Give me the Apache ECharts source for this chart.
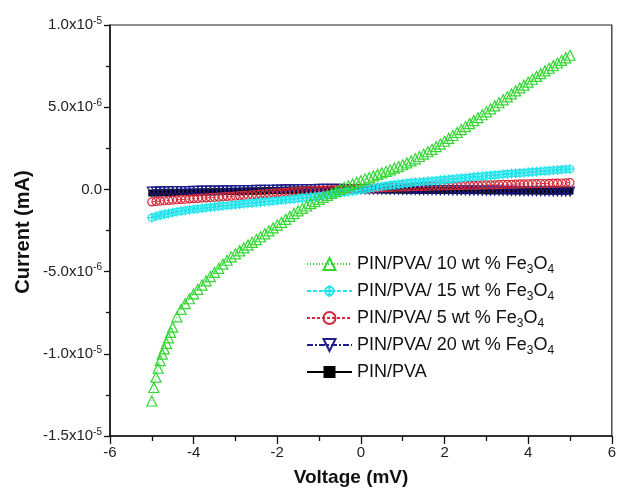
<!DOCTYPE html>
<html>
<head>
<meta charset="utf-8">
<script src="https://cdn.jsdelivr.net/npm/echarts@6/dist/echarts.min.js"></script>
<style>
html,body{margin:0;padding:0;background:#fff;}
#chart{width:619px;height:490px;}
</style>
</head>
<body>
<div id="chart"></div>
<script>
// Current values in units of 1e-6 mA
const UNIT = 1e-6;
const xTicks = [-6, -4, -2, 0, 2, 4, 6];
const yTicks = [-15, -10, -5, 0, 5, 10];

const voltage = [
-5.0,-4.9,-4.8,-4.7,-4.6,-4.5,-4.4,-4.3,-4.2,-4.1,
-4.0,-3.9,-3.8,-3.7,-3.6,-3.5,-3.4,-3.3,-3.2,-3.1,
-3.0,-2.9,-2.8,-2.7,-2.6,-2.5,-2.4,-2.3,-2.2,-2.1,
-2.0,-1.9,-1.8,-1.7,-1.6,-1.5,-1.4,-1.3,-1.2,-1.1,
-1.0,-0.9,-0.8,-0.7,-0.6,-0.5,-0.4,-0.3,-0.2,-0.1,
0.0,0.1,0.2,0.3,0.4,0.5,0.6,0.7,0.8,0.9,
1.0,1.1,1.2,1.3,1.4,1.5,1.6,1.7,1.8,1.9,
2.0,2.1,2.2,2.3,2.4,2.5,2.6,2.7,2.8,2.9,
3.0,3.1,3.2,3.3,3.4,3.5,3.6,3.7,3.8,3.9,
4.0,4.1,4.2,4.3,4.4,4.5,4.6,4.7,4.8,4.9,
5.0];

const voltage10 = [
-5.0,-4.95,-4.9,-4.85,-4.8,-4.75,-4.7,-4.65,-4.6,-4.55,-4.5,
-4.4,-4.3,-4.2,-4.1,
-4.0,-3.9,-3.8,-3.7,-3.6,-3.5,-3.4,-3.3,-3.2,-3.1,
-3.0,-2.9,-2.8,-2.7,-2.6,-2.5,-2.4,-2.3,-2.2,-2.1,
-2.0,-1.9,-1.8,-1.7,-1.6,-1.5,-1.4,-1.3,-1.2,-1.1,
-1.0,-0.9,-0.8,-0.7,-0.6,-0.5,-0.4,-0.3,-0.2,-0.1,
0.0,0.1,0.2,0.3,0.4,0.5,0.6,0.7,0.8,0.9,
1.0,1.1,1.2,1.3,1.4,1.5,1.6,1.7,1.8,1.9,
2.0,2.1,2.2,2.3,2.4,2.5,2.6,2.7,2.8,2.9,
3.0,3.1,3.2,3.3,3.4,3.5,3.6,3.7,3.8,3.9,
4.0,4.1,4.2,4.3,4.4,4.5,4.6,4.7,4.8,4.9,
5.0];

const current10 = [
-12.87,-12.05,-11.42,-10.88,-10.42,-10.02,-9.70,-9.36,-9.03,-8.70,-8.38,
-7.75,-7.30,-6.95,-6.65,
-6.36,-6.08,-5.82,-5.56,-5.30,-5.05,-4.80,-4.55,-4.31,-4.10,
-3.92,-3.74,-3.56,-3.39,-3.22,-3.05,-2.88,-2.70,-2.52,-2.34,
-2.17,-2.00,-1.82,-1.64,-1.47,-1.31,-1.16,-1.01,-0.87,-0.74,
-0.61,-0.48,-0.36,-0.24,-0.12,0.00,0.11,0.22,0.33,0.43,
0.53,0.63,0.72,0.82,0.91,1.00,1.10,1.19,1.29,1.39,
1.50,1.61,1.73,1.86,2.00,2.14,2.29,2.44,2.60,2.76,
2.93,3.10,3.28,3.46,3.64,3.82,4.00,4.18,4.36,4.54,
4.72,4.90,5.08,5.27,5.45,5.63,5.81,5.99,6.17,6.34,
6.52,6.70,6.87,7.04,7.21,7.37,7.53,7.69,7.85,8.00,
8.16];

const current15 = [
-1.72,-1.64,-1.57,-1.51,-1.46,-1.41,-1.36,-1.32,-1.28,-1.24,
-1.21,-1.18,-1.15,-1.12,-1.09,-1.06,-1.03,-1.00,-0.98,-0.95,
-0.93,-0.90,-0.88,-0.85,-0.83,-0.80,-0.78,-0.75,-0.73,-0.70,
-0.68,-0.65,-0.63,-0.60,-0.58,-0.55,-0.52,-0.50,-0.47,-0.44,
-0.41,-0.38,-0.34,-0.30,-0.26,-0.22,-0.18,-0.14,-0.10,-0.06,
-0.02,0.02,0.06,0.10,0.14,0.18,0.22,0.26,0.29,0.32,
0.35,0.38,0.41,0.43,0.45,0.47,0.49,0.51,0.53,0.56,
0.58,0.61,0.63,0.66,0.68,0.71,0.73,0.76,0.78,0.80,
0.83,0.85,0.87,0.89,0.92,0.94,0.96,0.98,1.00,1.02,
1.04,1.06,1.08,1.10,1.12,1.14,1.16,1.18,1.20,1.22,
1.24];

const current5 = [
-0.76,-0.73,-0.71,-0.69,-0.67,-0.65,-0.63,-0.61,-0.60,-0.58,
-0.56,-0.55,-0.53,-0.52,-0.50,-0.48,-0.47,-0.45,-0.43,-0.42,
-0.40,-0.38,-0.36,-0.34,-0.33,-0.31,-0.29,-0.27,-0.25,-0.23,
-0.21,-0.20,-0.18,-0.16,-0.14,-0.13,-0.11,-0.10,-0.08,-0.07,
-0.05,-0.04,-0.03,-0.02,-0.01,0.00,0.01,0.02,0.03,0.04,
0.05,0.06,0.07,0.08,0.09,0.10,0.11,0.12,0.13,0.14,
0.15,0.15,0.16,0.17,0.18,0.18,0.19,0.20,0.20,0.21,
0.22,0.22,0.23,0.23,0.24,0.24,0.25,0.25,0.26,0.27,
0.27,0.28,0.28,0.29,0.30,0.30,0.31,0.32,0.33,0.33,
0.34,0.35,0.35,0.36,0.36,0.37,0.38,0.38,0.39,0.40,
0.41];

const current20 = [
-0.13,-0.13,-0.12,-0.12,-0.12,-0.11,-0.11,-0.10,-0.10,-0.10,
-0.09,-0.09,-0.08,-0.08,-0.08,-0.07,-0.07,-0.06,-0.06,-0.06,
-0.05,-0.05,-0.04,-0.04,-0.04,-0.03,-0.03,-0.02,-0.02,-0.02,
-0.01,-0.01,0.00,0.00,0.00,0.01,0.01,0.02,0.02,0.02,
0.03,0.03,0.03,0.03,0.03,0.03,0.02,0.02,0.02,0.01,
0.01,0.00,0.00,0.00,-0.01,-0.01,-0.01,-0.02,-0.02,-0.02,
-0.03,-0.03,-0.03,-0.03,-0.04,-0.04,-0.04,-0.04,-0.05,-0.05,
-0.05,-0.05,-0.06,-0.06,-0.06,-0.06,-0.07,-0.07,-0.07,-0.07,
-0.08,-0.08,-0.08,-0.08,-0.09,-0.09,-0.09,-0.09,-0.10,-0.10,
-0.10,-0.10,-0.11,-0.11,-0.11,-0.11,-0.12,-0.12,-0.12,-0.12,
-0.13];

const currentPure = [
-0.22,-0.21,-0.21,-0.20,-0.20,-0.19,-0.19,-0.18,-0.18,-0.17,
-0.17,-0.16,-0.16,-0.15,-0.15,-0.14,-0.14,-0.13,-0.13,-0.12,
-0.12,-0.11,-0.11,-0.10,-0.10,-0.09,-0.09,-0.08,-0.08,-0.07,
-0.07,-0.06,-0.06,-0.05,-0.05,-0.04,-0.04,-0.03,-0.03,-0.02,
-0.02,-0.01,-0.01,0.00,0.00,0.00,0.00,-0.01,-0.01,-0.01,
-0.01,-0.02,-0.02,-0.02,-0.02,-0.03,-0.03,-0.03,-0.03,-0.03,
-0.04,-0.04,-0.04,-0.04,-0.05,-0.05,-0.05,-0.05,-0.05,-0.06,
-0.06,-0.06,-0.06,-0.06,-0.07,-0.07,-0.07,-0.07,-0.07,-0.07,
-0.08,-0.08,-0.08,-0.08,-0.08,-0.08,-0.09,-0.09,-0.09,-0.09,
-0.09,-0.09,-0.09,-0.09,-0.10,-0.10,-0.10,-0.10,-0.10,-0.10,
-0.10];

const seriesNames = [
  'PIN/PVA/ 10 wt % Fe3O4',
  'PIN/PVA/ 15 wt % Fe3O4',
  'PIN/PVA/ 5 wt % Fe3O4',
  'PIN/PVA/ 20 wt % Fe3O4',
  'PIN/PVA'
];

const colors = {
  green: '#33d633',
  cyan: '#22e3ec',
  red: '#d42a3a',
  navy: '#1e1e8c',
  black: '#000000'
};

function zip(xs, ys) { return xs.map((x, i) => [x, ys[i]]); }

const crossCircle = 'path://M10 0L10 20M0 10L20 10M17 10A7 7 0 1 1 3 10A7 7 0 1 1 17 10Z';

const FONT = 'Liberation Sans, Arial, Helvetica, sans-serif';

const chart = echarts.init(document.getElementById('chart'), null, {renderer: 'canvas'});

function yLabel(v) {
  if (Math.abs(v) < 1e-9) return '0.0';
  const real = v * UNIT;
  const exp = Math.floor(Math.log10(Math.abs(real)) + 1e-9);
  const mant = real / Math.pow(10, exp);
  return mant.toFixed(1) + 'x10{sup|' + exp + '}';
}

function mk(name, data, color, symbol, size, dash, extra) {
  return Object.assign({
    name: name,
    type: 'line',
    data: data,
    symbol: symbol,
    symbolSize: size,
    showSymbol: true,
    showAllSymbol: true,
    smooth: false,
    lineStyle: {color: color, width: 1, type: dash},
    itemStyle: {color: 'rgba(0,0,0,0)', borderColor: color, borderWidth: 1.2},
    emphasis: {disabled: true},
    animation: false
  }, extra || {});
}

const option = {
  backgroundColor: '#fff',
  animation: false,
  grid: {left: 110, right: 4, top: 25, bottom: 54, show: true, borderColor: '#222', borderWidth: 1.2, backgroundColor: 'transparent'},
  xAxis: {
    type: 'value', min: xTicks[0], max: xTicks[xTicks.length - 1], interval: 2,
    axisLine: {show: true, onZero: false, lineStyle: {color: '#111', width: 1.5}},
    axisTick: {show: true, inside: false, length: 8, lineStyle: {color: '#111', width: 1.3}},
    minorTick: {show: true, splitNumber: 2, length: 5, lineStyle: {color: '#111', width: 1.3}},
    splitLine: {show: false},
    axisLabel: {fontSize: 15, color: '#222', margin: 9, fontFamily: FONT}
  },
  yAxis: {
    type: 'value', min: yTicks[0], max: yTicks[yTicks.length - 1], interval: 5,
    axisLine: {show: true, onZero: false, lineStyle: {color: '#111', width: 1.5}},
    axisTick: {show: true, inside: false, length: 6, lineStyle: {color: '#111', width: 1.3}},
    minorTick: {show: true, splitNumber: 2, length: 4, lineStyle: {color: '#111', width: 1.3}},
    splitLine: {show: false},
    axisLabel: {
      fontSize: 15, color: '#222', margin: 8, fontFamily: FONT, lineHeight: 18,
      formatter: yLabel,
      rich: {sup: {fontSize: 10, lineHeight: 10, verticalAlign: 'top', color: '#222', fontFamily: FONT}}
    }
  },
  legend: {
    orient: 'vertical', left: 301, top: 247,
    itemWidth: 45, itemHeight: 15, itemGap: 3,
    data: seriesNames,
    selectedMode: false,
    textStyle: {
      fontSize: 18, color: '#111', fontFamily: FONT, lineHeight: 24,
      rich: {sub: {fontSize: 12, lineHeight: 12, verticalAlign: 'bottom', color: '#111', fontFamily: FONT}}
    },
    formatter: function (name) { return name.replace('Fe3O4', 'Fe{sub|3}O{sub|4}'); }
  },
  graphic: [
    {type: 'text', style: {text: 'Voltage (mV)', font: 'bold 19px ' + FONT, fill: '#111', textAlign: 'center', textVerticalAlign: 'middle'}, position: [351, 478]},
    {type: 'text', rotation: Math.PI / 2, style: {text: 'Current (mA)', font: 'bold 20px ' + FONT, fill: '#111', textAlign: 'center', textVerticalAlign: 'middle'}, position: [23, 232]}
  ],
  series: [
    mk(seriesNames[4], zip(voltage, currentPure), colors.black, 'rect', 7, 'solid', {itemStyle: {color: colors.black, borderColor: colors.black, borderWidth: 0}}),
    mk(seriesNames[3], zip(voltage, current20), colors.navy, 'triangle', 9, [6, 2, 2, 2], {symbolRotate: 180}),
    mk(seriesNames[2], zip(voltage, current5), colors.red, 'circle', 8, [3, 2]),
    mk(seriesNames[1], zip(voltage, current15), colors.cyan, crossCircle, 10, [4, 2]),
    mk(seriesNames[0], zip(voltage10, current10), colors.green, 'triangle', 10, [1, 2])
  ]
};
chart.setOption(option);
</script>
</body>
</html>
